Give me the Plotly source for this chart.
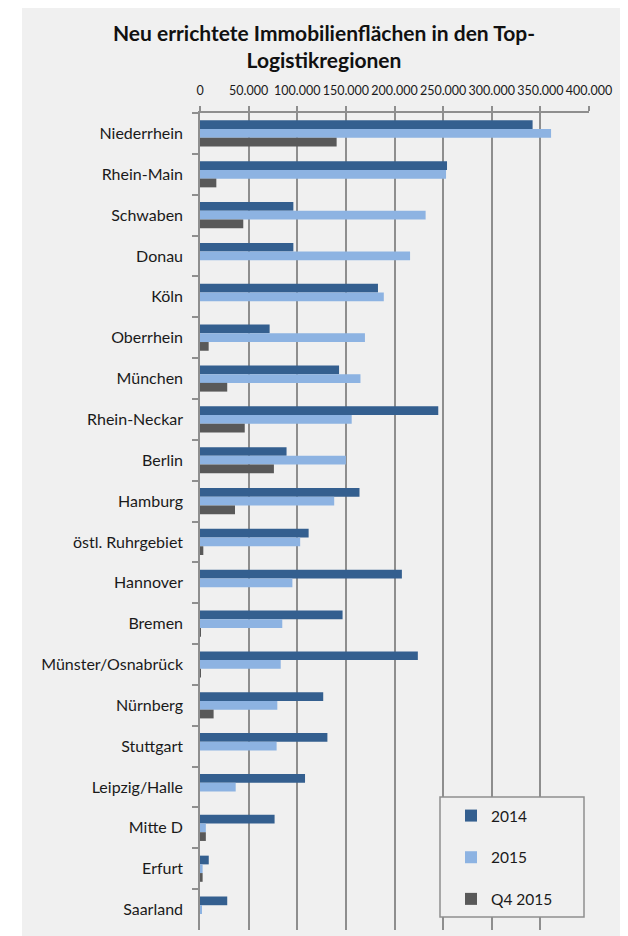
import plotly.graph_objects as go

regions = ["Niederrhein", "Rhein-Main", "Schwaben", "Donau", "Köln", "Oberrhein",
           "München", "Rhein-Neckar", "Berlin", "Hamburg", "östl. Ruhrgebiet",
           "Hannover", "Bremen", "Münster/Osnabrück", "Nürnberg", "Stuttgart",
           "Leipzig/Halle", "Mitte D", "Erfurt", "Saarland"]

vals_2014 = [342000, 254000, 96000, 96000, 183000, 71600, 143000, 245000, 89000, 164000,
             111700, 207600, 146600, 224000, 126700, 131000, 108000, 76700, 9000, 28000]
vals_2015 = [361000, 253000, 232000, 216000, 189000, 169600, 165000, 156000, 150000, 138000,
             103000, 95000, 84600, 83000, 79500, 78800, 36700, 6000, 2700, 1400]
vals_q4_2015 = [140500, 16800, 44500, 0, 0, 8900, 28000, 46000, 76000, 36000,
                3400, 0, 800, 600, 14000, 0, 0, 6000, 2700, 0]

series_names = ["2014", "2015", "Q4 2015"]
colors = ["#345f8f", "#8db3e2", "#595959"]

title_text = "Neu errichtete Immobilienflächen in den Top-<br>Logistikregionen"

# page offset (body margin) and layout geometry in target-picture pixels
OFF = 8
W, H = 620, 928
PL, PR, PT, PB = 200, 589, 113, 930   # plot area in picture pixels
L, R, T, B = PL - OFF, W - (PR - OFF), PT - OFF, H - (PB - OFF)
pw, ph = W - L - R, H - T - B


def px_x(p):
    return (p - OFF - L) / pw


def px_y(p):
    return (H - B - (p - OFF)) / ph


fig = go.Figure()
for i, (name, vals) in enumerate(zip(series_names, [vals_2014, vals_2015, vals_q4_2015])):
    fig.add_trace(go.Bar(
        y=regions, x=vals, name=name, orientation="h",
        marker=dict(color=colors[i], line=dict(width=0)),
        legendgroup=name,
    ))

grid_col = "#8e8e8e"
font_family = "Lato, 'Open Sans', sans-serif"

shapes = [
    # grey chart panel
    dict(type="rect", xref="paper", yref="paper", layer="below",
         x0=px_x(22), x1=px_x(623), y0=px_y(945), y1=px_y(6),
         fillcolor="#f0f0f0", line=dict(width=0)),
    # right shadow
    dict(type="rect", xref="paper", yref="paper", layer="below",
         x0=px_x(623), x1=px_x(628), y0=px_y(945), y1=px_y(10),
         fillcolor="#c4c4c4", line=dict(width=0)),
    # legend box
    dict(type="rect", xref="paper", yref="paper", layer="above",
         x0=px_x(440), x1=px_x(584), y0=px_y(917), y1=px_y(797),
         fillcolor="#f0f0f0", line=dict(color=grid_col, width=1.5)),
]

fig.update_layout(
    width=W, height=H,
    margin=dict(l=L, r=R, t=T, b=B, pad=0),
    paper_bgcolor="white",
    plot_bgcolor="rgba(0,0,0,0)",
    separators=",.",
    font=dict(family=font_family, color="#1a1a1a"),
    title=dict(text=title_text, x=(324 - OFF) / W, xanchor="center", xref="container",
               y=1 - 33 / H, yanchor="top", yref="container",
               font=dict(size=21, family=font_family, color="#111111", weight="bold")),
    barmode="group", bargap=0.36, bargroupgap=0,
    showlegend=True,
    legend=dict(x=px_x(451), xanchor="left", y=px_y(799), yanchor="top",
                bgcolor="rgba(0,0,0,0)", borderwidth=0,
                font=dict(size=15.5, family=font_family, color="#1a1a1a"),
                tracegroupgap=18.5, traceorder="grouped"),
    shapes=shapes,
    xaxis=dict(side="top", range=[0, 400000], dtick=50000, tick0=0,
               tickformat=",d", showgrid=True, gridcolor=grid_col, gridwidth=2,
               showline=True, linecolor=grid_col, linewidth=1.5,
               ticks="outside", ticklen=5, tickcolor=grid_col, tickwidth=1.5,
               zeroline=False, tickfont=dict(size=12.5, family=font_family, color="#1a1a1a"),
               ticklabelstandoff=6, fixedrange=True),
    yaxis=dict(type="category", autorange="reversed", showline=True,
               linecolor=grid_col, linewidth=1.5, ticks="outside", tickson="boundaries",
               ticklen=6, tickcolor=grid_col, tickwidth=1.5, showgrid=False,
               tickfont=dict(size=16, family=font_family, color="#1a1a1a"),
               ticklabelstandoff=12, fixedrange=True),
)

fig.write_html("out.html")
